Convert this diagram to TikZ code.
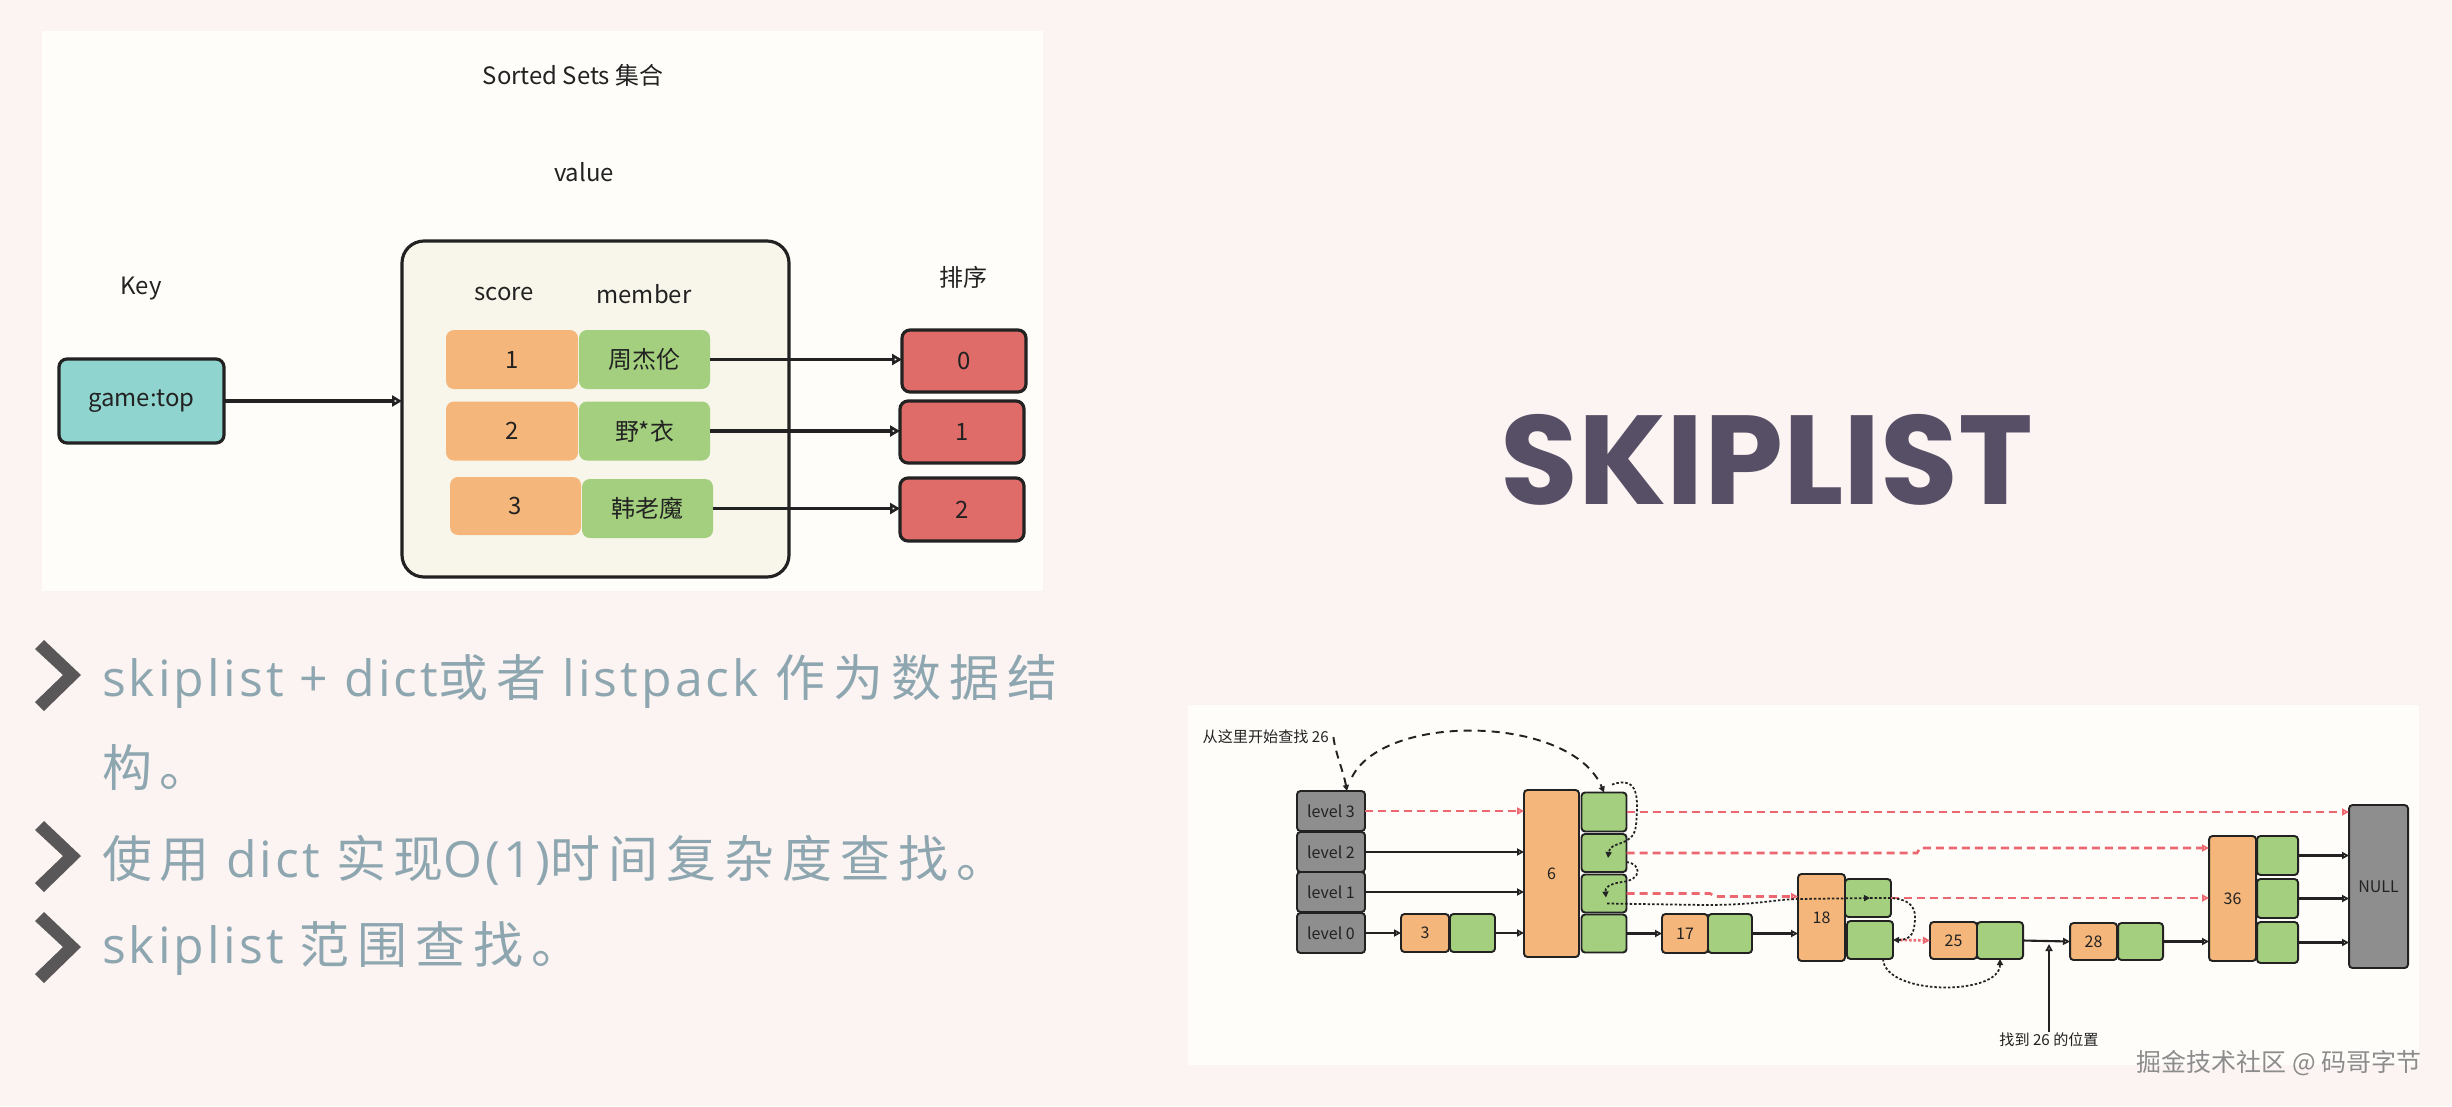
\documentclass[tikz,border=0pt]{standalone}
\usepackage{fontspec}
\setmainfont{Noto Sans CJK SC}
\newfontfamily\bulletlat{Open Sans}[LetterSpace=6.2]
\newfontfamily\bulletcjk{Noto Sans CJK SC}[LetterSpace=16.2]
\newfontfamily\titlefont{Poppins}
\usetikzlibrary{arrows.meta,calc}

\definecolor{pagebg}{HTML}{FCF4F2}
\definecolor{panelbg}{HTML}{FEFDF9}
\definecolor{contbg}{HTML}{F8F5EA}
\definecolor{tealc}{HTML}{90D4CF}
\definecolor{orangec}{HTML}{F4B67A}
\definecolor{greenc}{HTML}{A3CF7E}
\definecolor{redbox}{HTML}{DF6C68}
\definecolor{grayc}{HTML}{8E8E8E}
\definecolor{redline}{HTML}{EC6770}
\definecolor{bullettext}{HTML}{8DA6AF}
\definecolor{chev}{HTML}{5A5758}
\definecolor{titlec}{HTML}{574F66}
\definecolor{ink}{HTML}{222222}
\definecolor{wmark}{HTML}{8C8C8C}

\newcommand\fsA{\fontsize{6.8pt}{8pt}\selectfont}
\newcommand\fsB{\fontsize{14.2pt}{16pt}\selectfont}
\newcommand\fsC{\fontsize{4.55pt}{5.5pt}\selectfont}
\newcommand\fsD{\fontsize{4.3pt}{5.2pt}\selectfont}
\newcommand\fsE{\fontsize{7.1pt}{8.5pt}\selectfont}
\newcommand\fsT{\fontsize{36pt}{40pt}\selectfont}

\tikzset{
  sz/.style 2 args={minimum width=#1*0.01cm, minimum height=#2*0.01cm},
  lbl/.style={inner sep=0, outer sep=0, text=ink, font=\fsA},
  tbox/.style={inner sep=0, outer sep=0, rounded corners=0.08cm, font=\fsA, text=ink},
  keybox/.style={tbox, draw=ink, line width=0.9pt, fill=tealc},
  scorebox/.style={tbox, fill=orangec},
  memberbox/.style={tbox, fill=greenc},
  rankbox/.style={tbox, draw=ink, line width=0.9pt, fill=redbox},
  tarr/.style={draw=ink, line width=0.9pt, -{Triangle[open,length=0.1cm,width=0.11cm]}},
  cell/.style={draw=ink, line width=0.55pt, rounded corners=0.035cm, inner sep=0, outer sep=0, font=\fsC, text=ink},
  ocell/.style={cell, fill=orangec},
  gcell/.style={cell, fill=greenc},
  lvcell/.style={cell, fill=grayc},
  sarr/.style={draw=ink, line width=0.6pt, -{Triangle[open,length=0.07cm,width=0.07cm]}},
  rarr/.style={draw=redline, line width=0.75pt, dash pattern=on 0.08cm off 0.05cm, -{Triangle[open,length=0.07cm,width=0.07cm]}},
  rdot/.style={draw=redline, line width=0.75pt, dash pattern=on 0.025cm off 0.02cm, -{Triangle[open,length=0.07cm,width=0.07cm]}},
  kdash/.style={draw=ink, line width=0.55pt, dash pattern=on 0.08cm off 0.06cm, -{Triangle[length=0.06cm,width=0.06cm]}},
  kdot/.style={draw=ink, line width=0.5pt, dash pattern=on 0.025cm off 0.02cm, -{Triangle[length=0.06cm,width=0.06cm]}},
  blt/.style={anchor=base west, inner sep=0, outer sep=0, text=bullettext, font=\fsB}
}

\begin{document}
\begin{tikzpicture}[x=0.01cm, y=-0.01cm]
\fill[pagebg] (0,0) rectangle (2452,1106);
\useasboundingbox (0,0) rectangle (2452,1106);

%% ---------- top-left panel ----------
\fill[panelbg] (42,31) rectangle (1043,591);
\node[lbl] (sstitle) at (573,75) {Sorted Sets 集合};
\node[lbl] (valuelbl) at (584,172) {value};
\node[lbl] (keylbl) at (141,289) {Key};
\node[lbl] (sortlbl) at (963,277) {排序};
\node[draw=ink, fill=contbg, line width=0.9pt, rounded corners=0.22cm, sz={387}{336}, inner sep=0, outer sep=0] (cont) at (595.5,409) {};
\node[lbl] (scorelbl) at (504,294) {score};
\node[lbl] (memberlbl) at (644,294) {member};
\node[keybox, sz={165}{84}] (key) at (141.5,401) {game:top};

\node[scorebox, sz={132}{59}] (s1) at (512,359.5) {1};
\node[memberbox, sz={131}{59}] (m1) at (644.5,359.5) {周杰伦};
\node[scorebox, sz={132}{59}] (s2) at (512,431) {2};
\node[memberbox, sz={131}{59}] (m2) at (644.5,431) {野*衣};
\node[scorebox, sz={131}{58}] (s3) at (515.5,506) {3};
\node[memberbox, sz={131}{59}] (m3) at (647.5,508.5) {韩老魔};

\node[rankbox, sz={124}{62}] (r0) at (964,361) {0};
\node[rankbox, sz={124}{62}] (r1) at (962,432) {1};
\node[rankbox, sz={124}{63}] (r2) at (962,509.5) {2};

\draw[tarr] (key.east) -- (key.east -| cont.west);
\draw[tarr] (m1.east) -- (m1.east -| r0.west);
\draw[tarr] (m2.east) -- (m2.east -| r1.west);
\draw[tarr] (m3.east) -- (m3.east -| r2.west);

%% ---------- bullets ----------
\foreach \cy in {675,856,947}
  \fill[chev] (35,\cy-26) -- (44,\cy-35) -- (81,\cy) -- (44,\cy+36) -- (35,\cy+27) -- (63,\cy) -- cycle;
\node[blt] (b1) at (102,696) {\bulletlat skiplist + dict{\bulletcjk 或者} listpack {\bulletcjk 作为数据结}};
\node[blt] (b2) at (102,786) {\bulletcjk 构。};
\node[blt] (b3) at (102,877) {{\bulletcjk 使用}\bulletlat{} dict {\bulletcjk 实现}O(1){\bulletcjk 时间复杂度查找。}};
\node[blt] (b4) at (102,963) {\bulletlat skiplist {\bulletcjk 范围查找。}};

%% ---------- title ----------
\node[anchor=base, inner sep=0, text=titlec] (bigtitle) at (1767,504) {\fsT\titlefont\bfseries SKIPLIST};

%% ---------- skiplist panel ----------
\fill[panelbg] (1188,705) rectangle (2419,1065);

\node[lvcell, sz={68}{40}] (l3) at (1331,811) {level 3};
\node[lvcell, sz={68}{40}] (l2) at (1331,852) {level 2};
\node[lvcell, sz={68}{40}] (l1) at (1331,892) {level 1};
\node[lvcell, sz={68}{40}] (l0) at (1331,933) {level 0};

\node[ocell, sz={48}{38}] (n3) at (1425,933) {3};
\node[gcell, sz={45}{38}] (g3) at (1472.5,933) {};

\node[ocell, sz={55}{167}] (n6) at (1551.5,873.5) {6};
\node[gcell, sz={45}{39}] (g63) at (1604,812) {};
\node[gcell, sz={45}{38}] (g62) at (1604,853) {};
\node[gcell, sz={45}{38}] (g61) at (1604,893.5) {};
\node[gcell, sz={45}{38}] (g60) at (1604,933.5) {};

\node[ocell, sz={46}{39}] (n17) at (1685,933.5) {17};
\node[gcell, sz={44}{39}] (g17) at (1730,933.5) {};

\node[ocell, sz={47}{87}] (n18) at (1821.5,917.5) {18};
\node[gcell, sz={46}{38}] (g18a) at (1868,898) {};
\node[gcell, sz={46}{38}] (g18b) at (1870,940) {};

\node[ocell, sz={47}{37}] (n25) at (1953.5,940.5) {25};
\node[gcell, sz={46}{37}] (g25) at (2000,940.5) {};

\node[ocell, sz={47}{37}] (n28) at (2093.5,941.5) {28};
\node[gcell, sz={45}{37}] (g28) at (2140.5,941.5) {};

\node[ocell, sz={47}{125}] (n36) at (2232.5,898.5) {36};
\node[gcell, sz={41}{39}] (g36a) at (2277.5,855.5) {};
\node[gcell, sz={41}{39}] (g36b) at (2277.5,898.5) {};
\node[gcell, sz={41}{41}] (g36c) at (2277.5,942.5) {};

\node[lvcell, sz={59}{163}] (null) at (2378.5,886.5) {NULL};

% black solid links
\draw[sarr] (l2.east) -- (l2.east -| n6.west);
\draw[sarr] (l1.east) -- (l1.east -| n6.west);
\draw[sarr] (l0.east) -- (n3.west);
\draw[sarr] (g3.east) -- (g3.east -| n6.west);
\draw[sarr] (g60.east) -- (n17.west);
\draw[sarr] (g17.east) -- (g17.east -| n18.west);
\draw[sarr] (g25.east) -- (n28.west);
\draw[sarr] (g28.east) -- (g28.east -| n36.west);
\draw[sarr] (g36a.east) -- (g36a.east -| null.west);
\draw[sarr] (g36b.east) -- (g36b.east -| null.west);
\draw[sarr] (g36c.east) -- (g36c.east -| null.west);

% red dashed links
\draw[rarr] (l3.east) -- (l3.east -| n6.west);
\draw[rarr] (g63.east) -- (g63.east -| null.west);
\draw[rarr] (g62.east) -- (1917,853) -- (1920,848) -- (n36.west |- 0,848);
\draw[rarr] (g61.east) -- (1710,893.5) -- (1715,896.5) -- (n18.west |- 0,896.5);
\draw[rarr] (g18a.east) -- (g18a.east -| n36.west);
\draw[rdot] ([xshift=0.07cm]g18b.east) -- (n25.west);

% annotation
\node[anchor=west, inner sep=0, text=ink, font=\fsD] (start) at (1202,737) {从这里开始查找 26};
\draw[kdash] ([xshift=0.04cm]start.east) .. controls (1335,752) and (1343,770) .. ([xshift=0.16cm]l3.north);
\coordinate (arcs) at (1352,777);
\draw[kdash] (arcs) .. controls (1385,712) and (1572,715) .. (g63.north);

% search path (dotted)
\draw[kdot] ([shift={(0.08cm,0.08cm)}]g63.north) .. controls (1640,775) and (1638,800) .. (1636,825) .. controls (1634,848) and (1610,840) .. ([shift={(0.04cm,-0.05cm)}]g62.center);
\draw[kdot] ([yshift=-0.09cm]g62.east) .. controls (1642,864) and (1642,880) .. (1622,882) .. controls (1608,884) and (1605,888) .. ([shift={(0.02cm,-0.04cm)}]g61.center);
\draw[kdot] ([shift={(0.03cm,-0.10cm)}]g61.center) -- (1705,905) .. controls (1760,905) and (1775,899) .. (1800,899) -- ([xshift=0.02cm]g18a.center);
\draw[kdot] ([xshift=0.02cm]g18a.center) -- (g18a.east) .. controls (1918,900) and (1916,915) .. (1914,928) .. controls (1912,938) and (1905,940) .. (g18b.east);
\draw[kdot] ([xshift=0.13cm]g18b.south) .. controls (1885,996) and (2000,996) .. (g25.south);

\node[inner sep=0, text=ink, font=\fsD] (found) at (2049,1040) {找到 26 的位置};
\coordinate (pos26) at (2049,944);
\draw[draw=ink, line width=0.6pt, -{Triangle[open,length=0.07cm,width=0.07cm]}] (found.north) ++(0,-0.1) -- (pos26);

%% watermark
\node[anchor=east, inner sep=0, text=wmark, font=\fsE] (wm) at (2422,1063) {掘金技术社区 @ 码哥字节};
\end{tikzpicture}
\end{document}
